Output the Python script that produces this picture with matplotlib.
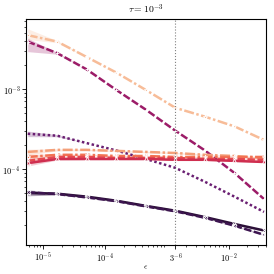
import numpy as np
import matplotlib
matplotlib.use("Agg")
import matplotlib.pyplot as plt

plt.rcParams["mathtext.fontset"] = "cm"
plt.rcParams["font.family"] = "serif"
plt.rcParams["font.serif"] = ["DejaVu Serif"]

# eps = 3^-11 ... 3^-3
eps = np.array([3.0 ** -k for k in range(11, 2, -1)])

# series values
peach_top = [4.7e-3, 3.9e-3, 2.5e-3, 1.6e-3, 9.7e-4, 5.8e-4, 4.5e-4, 3.4e-4, 2.3e-4]
magenta = [3.9e-3, 2.8e-3, 1.75e-3, 9.7e-4, 5.5e-4, 3.0e-4, 1.7e-4, 8.9e-5, 4.2e-5]
purple = [2.75e-4, 2.6e-4, 2.1e-4, 1.7e-4, 1.33e-4, 1.03e-4, 6.9e-5, 4.5e-5, 2.9e-5]
orange_lt = [1.63e-4, 1.73e-4, 1.73e-4, 1.68e-4, 1.63e-4, 1.58e-4, 1.5e-4, 1.45e-4, 1.37e-4]
orange = [1.41e-4, 1.5e-4, 1.5e-4, 1.45e-4, 1.45e-4, 1.41e-4, 1.41e-4, 1.41e-4, 1.41e-4]
red = [1.26e-4, 1.41e-4, 1.41e-4, 1.37e-4, 1.37e-4, 1.37e-4, 1.33e-4, 1.33e-4, 1.3e-4]
crimson = [1.18e-4, 1.33e-4, 1.33e-4, 1.33e-4, 1.33e-4, 1.3e-4, 1.3e-4, 1.26e-4, 1.22e-4]
dark1 = [5.0e-5, 4.9e-5, 4.5e-5, 4.0e-5, 3.45e-5, 3.0e-5, 2.5e-5, 2.05e-5, 1.7e-5]
dark2 = [5.1e-5, 4.85e-5, 4.4e-5, 3.95e-5, 3.4e-5, 2.95e-5, 2.45e-5, 1.95e-5, 1.5e-5]

# relative spread of shaded bands (upper, lower)
peach_top_err = ([0.2, 0.03, 0, 0, 0, 0, 0, 0, 0], [0.12, 0.03, 0, 0, 0, 0, 0, 0, 0])
magenta_err = ([0.1, 0.02, 0, 0, 0, 0, 0, 0, 0], [0.25, 0.03, 0, 0, 0, 0, 0, 0, 0])
purple_err = ([0.08, 0.03, 0, 0, 0, 0, 0, 0, 0], [0.08, 0.03, 0, 0, 0, 0, 0, 0, 0])
flat_err = ([0.08, 0.03, 0.02, 0.02, 0.02, 0.02, 0.02, 0.02, 0.02], [0.08, 0.03, 0.02, 0.02, 0.02, 0.02, 0.02, 0.02, 0.02])

series = [
    (peach_top, peach_top_err, "#f7bc98", (0, (4, 1, 1, 1)), "*"),
    (magenta, magenta_err, "#9c1c68", (0, (3, 1)), "+"),
    (purple, purple_err, "#6a1f72", (0, (1, 1)), None),
    (orange_lt, flat_err, "#f4a07a", (0, (4, 1, 1, 1)), None),
    (orange, flat_err, "#f27253", (0, (4, 1, 1, 1)), "*"),
    (red, flat_err, "#e6494f", (0, (3, 1)), "^"),
    (crimson, flat_err, "#cf2e4f", "-", "^"),
    (dark1, flat_err, "#2c1038", "-", "x"),
    (dark2, flat_err, "#3d1550", (0, (3, 1)), "X"),
]

fig = plt.figure(figsize=(2.74, 2.74), dpi=100)
ax = fig.add_axes([0.095, 0.106, 0.876, 0.825])

for vals, (up, lo), col, ls, mk in series:
    v = np.array(vals)
    ax.fill_between(eps, v * (1 - np.array(lo)), v * (1 + np.array(up)),
                    color=col, alpha=0.25, lw=0)
    ax.plot(eps, v, color=col, ls=ls, lw=1.8, marker=mk, ms=3.5,
            mec="white", mfc="none", mew=0.6)

ax.axvline(3.0 ** -6, color="gray", ls=":", lw=0.8)

ax.set_xscale("log")
ax.set_yscale("log")
ax.set_xlim(5.3e-6, 0.04)
ax.set_ylim(1.12e-5, 7.5e-3)

ax.set_xticks([1e-5, 1e-4, 3.0 ** -6, 1e-2])
ax.set_xticklabels([r"$10^{-5}$", r"$10^{-4}$", r"$3^{-6}$", r"$10^{-2}$"])
ax.set_yticks([1e-4, 1e-3])
ax.set_yticklabels([r"$10^{-4}$", r"$10^{-3}$"])
ax.tick_params(labelsize=6, length=3, width=0.6, pad=1)
ax.tick_params(which="minor", length=1.5, width=0.5)
for s in ax.spines.values():
    s.set_linewidth(0.8)

ax.set_xlabel(r"$\epsilon$", fontsize=6, labelpad=0)
ax.set_title(r"$\tau = 10^{-3}$", fontsize=7, pad=4)

fig.savefig("out.png", dpi=100)
